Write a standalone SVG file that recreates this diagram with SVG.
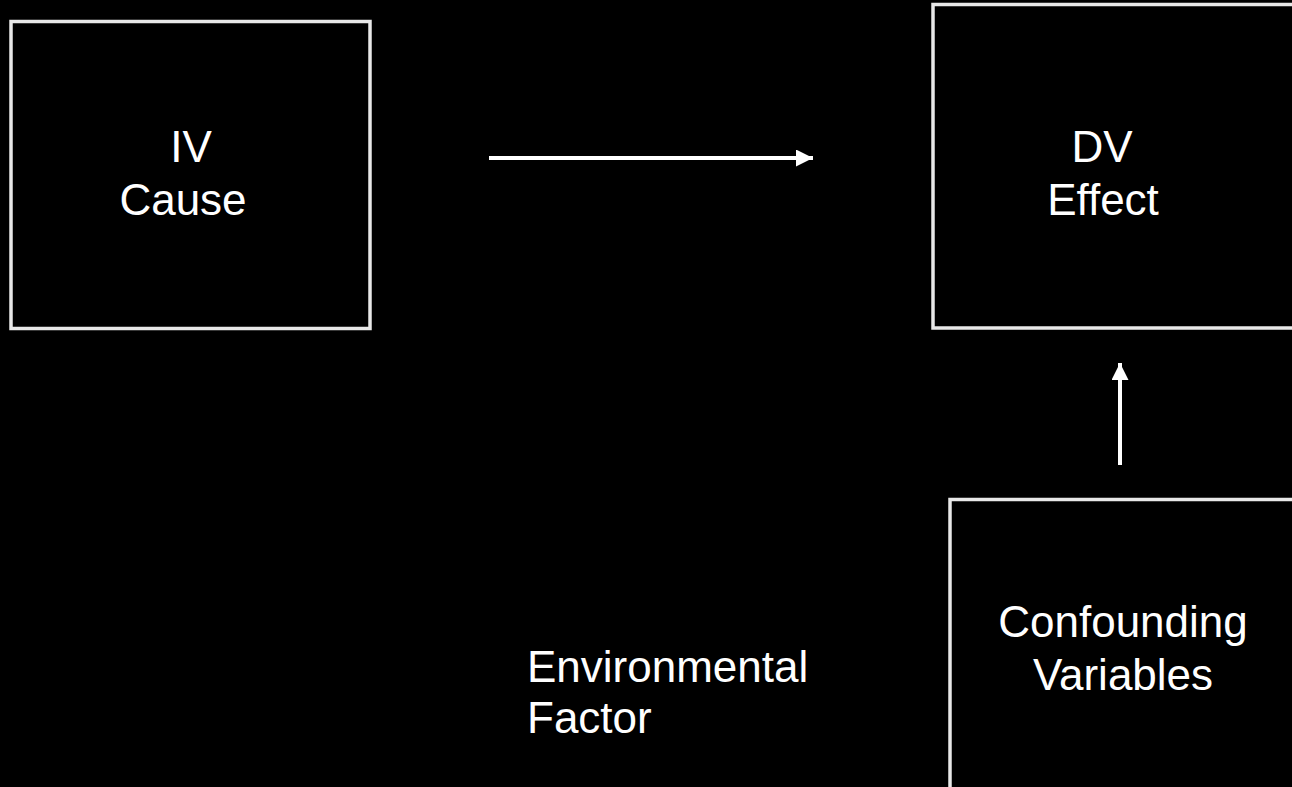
<svg xmlns="http://www.w3.org/2000/svg" width="1292" height="787" viewBox="0 0 1292 787">
  <style>
    .box { fill: #000000; stroke: #e8e8e8; stroke-width: 3.5; }
    .label { font-family: "Liberation Sans", Arial, sans-serif; font-size: 44px; fill: #ffffff; }
    .mid { text-anchor: middle; }
    .link { stroke: #ffffff; stroke-width: 4; fill: none; }
  </style>
  <defs>
    <marker id="head" markerUnits="userSpaceOnUse" markerWidth="18" markerHeight="18" refX="17" refY="8.5" orient="auto">
      <path d="M0,0 L17,8.5 L0,17 Z" fill="#ffffff"/>
    </marker>
  </defs>

  <rect x="0" y="0" width="1292" height="787" fill="#000000"/>

  <g id="node-iv">
    <rect class="box" x="11" y="21.5" width="359" height="307"/>
    <text class="label mid" x="191" y="162">IV</text>
    <text class="label mid" x="183" y="215">Cause</text>
  </g>

  <g id="node-dv">
    <rect class="box" x="933" y="4.5" width="380" height="323.5"/>
    <text class="label mid" x="1102" y="162">DV</text>
    <text class="label mid" x="1103" y="215">Effect</text>
  </g>

  <g id="node-confounding">
    <rect class="box" x="950" y="499.5" width="360" height="310"/>
    <text class="label mid" x="1123" y="637">Confounding</text>
    <text class="label mid" x="1123" y="690">Variables</text>
  </g>

  <g id="node-environment">
    <text class="label" x="527" y="682">Environmental</text>
    <text class="label" x="527" y="733">Factor</text>
  </g>

  <g id="connectors">
    <line class="link" x1="489" y1="158" x2="813" y2="158" marker-end="url(#head)"/>
    <line class="link" x1="1120" y1="465" x2="1120" y2="363" marker-end="url(#head)"/>
  </g>
</svg>
